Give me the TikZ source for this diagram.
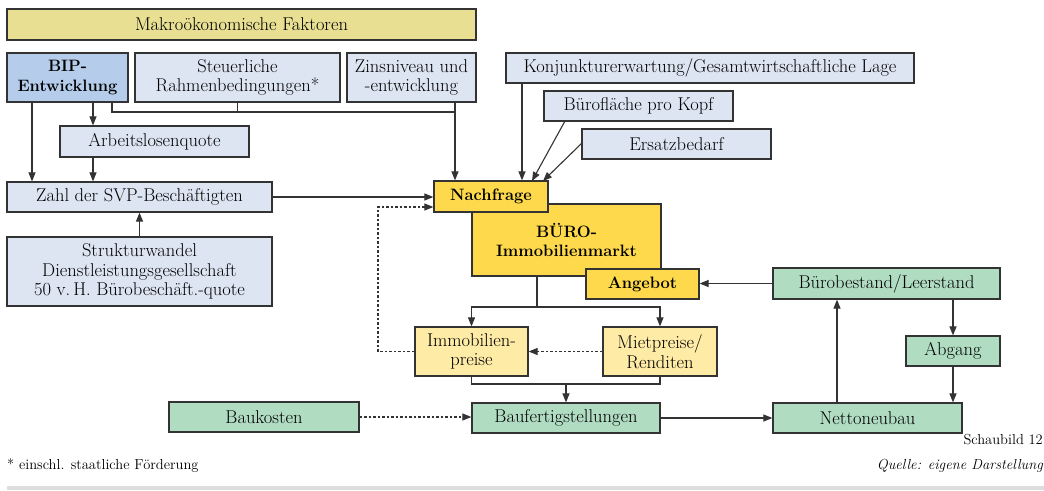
\documentclass[tikz,border=0pt]{standalone}
\usetikzlibrary{arrows.meta,calc}
\definecolor{lblue}{HTML}{DDE5F3}
\definecolor{bblue}{HTML}{B5CDEB}
\definecolor{yel}{HTML}{FDD94B}
\definecolor{lyel}{HTML}{FEEBA5}
\definecolor{grn}{HTML}{B0DCC2}
\definecolor{khaki}{HTML}{E8DF93}
\definecolor{bord}{HTML}{333333}
\definecolor{barg}{HTML}{DDDDDD}
\tikzset{
  box/.style={draw=bord, line width=1.2pt, inner sep=0pt, align=center, text=black,
     font=\fontsize{18.5}{19.5}\selectfont},
  bl/.style={box, fill=lblue},
  bb/.style={box, fill=bblue, font=\fontsize{16.5}{19.5}\selectfont\bfseries},
  by/.style={box, fill=yel, font=\fontsize{16.5}{19.5}\selectfont\bfseries},
  bly/.style={box, fill=lyel},
  bg/.style={box, fill=grn},
  bk/.style={box, fill=khaki},
  con/.style={draw=bord, line width=1.1pt},
  arr/.style={con, -{Triangle[length=9pt,width=7pt]}},
  darr/.style={con, dash pattern=on 2.5pt off 2pt, -{Triangle[length=9pt,width=7pt]}},
  sz/.style 2 args={minimum width=#1pt, minimum height=#2pt}
}
\begin{document}
\begin{tikzpicture}[x=1pt,y=-1pt]
\useasboundingbox (0,0) rectangle (1044,490);
% boxes
\node[bk, sz={469}{31}] (makro) at (241.5,24.5) {Makroökonomische Faktoren};
\node[bb, sz={121}{49}] (bip) at (67.5,77.5) {BIP-\\Entwicklung};
\node[bl, sz={205}{49}] (steuer) at (237.5,77.5) {Steuerliche\\Rahmenbedingungen*};
\node[bl, sz={129}{49}] (zins) at (411.5,77.5) {Zinsniveau und\\-entwicklung};
\node[bl, sz={189}{31}] (alq) at (154.5,141.5) {Arbeitslosenquote};
\node[bl, sz={265}{30}] (zahl) at (139.5,197) {Zahl der SVP-Beschäftigten};
\node[bl, sz={265}{69}] (struk) at (139.5,271.5) {Strukturwandel\\Dienstleistungsgesellschaft\\50 v.\,H. Bürobeschäft.-quote};
\node[bl, sz={408}{30}] (konj) at (710,68) {Konjunkturerwartung/Gesamtwirtschaftliche Lage};
\node[bl, sz={189}{30}] (bfl) at (638.5,106) {Bürofläche pro Kopf};
\node[bl, sz={189}{30}] (ersatz) at (676.5,144) {Ersatzbedarf};
\node[by, sz={189}{72}] (buero) at (566.5,240) {BÜRO-\\Immobilienmarkt};
\node[by, sz={114}{31}] (nach) at (491,196.5) {Nachfrage};
\node[by, sz={113}{30}] (angebot) at (642.5,284) {Angebot};
\node[bg, sz={227}{31}] (bestand) at (886.5,283.5) {Bürobestand/Leerstand};
\node[bly, sz={113}{49}] (immo) at (471.5,351.5) {Immobilien-\\preise};
\node[bly, sz={114}{49}] (miet) at (660,351.5) {Mietpreise/\\Renditen};
\node[bg, sz={188}{30}] (baufert) at (566,418) {Baufertigstellungen};
\node[bg, sz={190}{30}] (baukosten) at (264,417) {Baukosten};
\node[bg, sz={189}{30}] (netto) at (867.5,418) {Nettoneubau};
\node[bg, sz={94}{30}] (abgang) at (953,351) {Abgang};
% coordinates
\coordinate (xa) at (32,0);
\coordinate (xb) at (93,0);
\coordinate (xc) at (112,0);
\coordinate (ya) at (0,112);
\coordinate (xd) at (455,0);
\coordinate (dl) at (378,207);
\coordinate (xk) at (522,0);
\coordinate (jn) at (537,307);
\coordinate (lb) at (0,384);
\coordinate (xn) at (837,0);
\coordinate (bfs) at (565,121);
\coordinate (bfe) at (532,181);
\coordinate (ers) at (582,143);
\coordinate (ere) at (543,181);
% connectors
\draw[arr] (bip.south -| xa) -- (zahl.north -| xa);
\draw[arr] (bip.south -| xb) -- (alq.north -| xb);
\draw[arr] (alq.south -| xb) -- (zahl.north -| xb);
\draw[con] (bip.south -| xc) -- (xc |- ya) -- (xd |- ya);
\draw[con] (steuer.south) -- (steuer.south |- ya);
\draw[arr] (zins.south -| xd) -- (nach.north -| xd);
\draw[arr] (zahl.east) -- (zahl.east -| nach.west);
\draw[darr] (immo.west) -| (dl) -- (dl -| nach.west);
\draw[arr] (konj.south -| xk) -- (nach.north -| xk);
\draw[arr] (bfs) -- (bfe);
\draw[arr] (ers) -- (ere);
\draw[arr] (bestand.west) -- (bestand.west -| angebot.east);
\draw[con] (buero.south -| jn) -- (jn);
\draw[arr] (jn) -| (immo.north);
\draw[arr] (jn) -| (miet.north);
\draw[darr] (miet.west) -- (miet.west -| immo.east);
\draw[con] (immo.south) -- (immo.south |- lb) -- (miet.south |- lb) -- (miet.south);
\draw[arr] (baufert.north |- lb) -- (baufert.north);
\draw[darr] (baukosten.east) -- (baukosten.east -| baufert.west);
\draw[arr] (baufert.east) -- (baufert.east -| netto.west);
\draw[arr] (netto.north -| xn) -- (bestand.south -| xn);
\draw[arr] (bestand.south -| abgang.north) -- (abgang.north);
\draw[arr] (abgang.south) -- (abgang.south |- netto.north);
\draw[arr] (struk.north) -- (zahl.south);
% captions
\node[anchor=east, inner sep=0pt, font=\fontsize{14.5}{16}\selectfont] (schau) at (1043,440) {Schaubild 12};
\node[anchor=east, inner sep=0pt, font=\fontsize{14.5}{16}\selectfont\itshape] (quelle) at (1043,466) {Quelle: eigene Darstellung};
\node[anchor=west, inner sep=0pt, font=\fontsize{14.5}{16}\selectfont] (fn) at (7,466) {* einschl. staatliche Förderung};
\fill[barg] (7,486) rectangle (1044,490);
\end{tikzpicture}
\end{document}
